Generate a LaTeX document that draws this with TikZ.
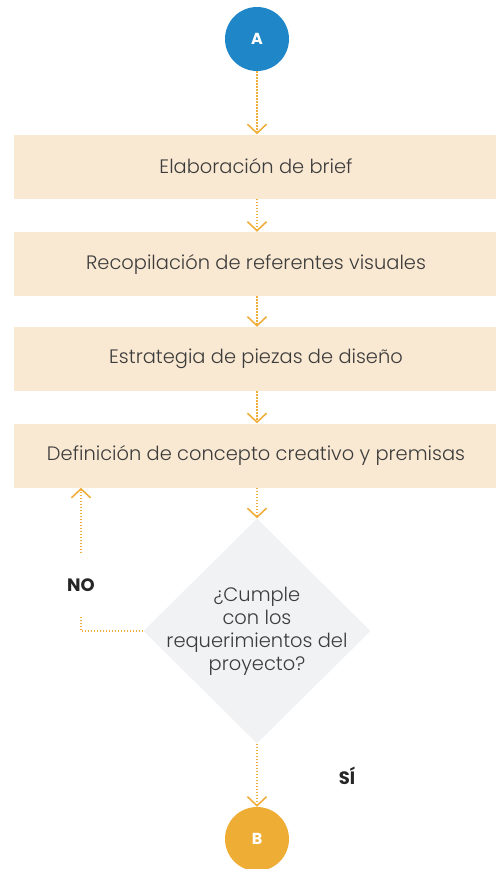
\documentclass[tikz,border=0pt]{standalone}
\usepackage{fontspec}
\setmainfont{Poppins}[UprightFont=* Light, BoldFont=* Bold]
\usepackage{xcolor}
\usetikzlibrary{shapes.geometric,arrows.meta}

\definecolor{azul}{HTML}{1F87C8}
\definecolor{naranja}{HTML}{EEAD35}
\definecolor{linea}{HTML}{F0AE3C}
\definecolor{crema}{HTML}{FAE9D2}
\definecolor{gris}{HTML}{F1F2F4}
\definecolor{texto}{HTML}{3C3C3C}

\begin{document}
\begin{tikzpicture}[x=1bp,y=-1bp,
		paso/.style={fill=crema, minimum width=484bp, minimum height=64bp, inner sep=0pt,
			text=texto, font=\fontsize{19.5}{23}\selectfont},
		nodo/.style={circle, minimum size=64bp, inner sep=0pt, text=white,
			font=\fontsize{16}{19}\selectfont\bfseries},
		flecha/.style={draw=linea, line width=1.3bp, dash pattern=on 1.3bp off 1.7bp,
			-{Straight Barb[width=19bp,length=9bp,line width=1.6bp]}},
		etiqueta/.style={text=black!85, font=\fontsize{18}{21}\selectfont\bfseries}]
		\useasboundingbox (0,0) rectangle (496,869);
		
		\node[nodo, fill=azul] (a) at (257,39) {A};
		
		\node[paso] (brief) at (256,166.5) {Elaboración de brief};
		\node[paso] (refs) at (256,264) {Recopilación de referentes visuales};
		\node[paso] (piezas) at (256,359) {Estrategia de piezas de diseño};
		\node[paso] (concepto) at (256,455.5) {Definición de concepto creativo y premisas};
		
		% decision
		\node[diamond, fill=gris, minimum width=227bp, minimum height=225bp, inner sep=0pt] (dec) at (257,631) {};
		\node[align=center, text=texto, font=\fontsize{19.5}{23}\selectfont] (pregunta) at (dec.center)
			{¿Cumple\\con los\\requerimientos del\\proyecto?};
		
		\node[nodo, fill=naranja] (b) at (257,839) {B};
		
		\node[etiqueta, minimum height=64bp] (no) at (81,585) {NO};
		\node[etiqueta] (si) at (347,776) {SÍ};
		
		\draw[flecha] (a) -- (brief.north -| a);
		\draw[flecha] (brief.south -| a) -- (refs.north -| a);
		\draw[flecha] (refs.south -| a) -- (piezas.north -| a);
		\draw[flecha] (piezas.south -| a) -- (concepto.north -| a);
		\draw[flecha] (concepto.south -| a) -- (dec.north);
		\draw[flecha] (dec.south) -- (b);
		
		\draw[flecha, -] (dec.west) -| (no.south);
		\draw[flecha] (no.north) -- (concepto.south -| no);
	\end{tikzpicture}
\end{document}
